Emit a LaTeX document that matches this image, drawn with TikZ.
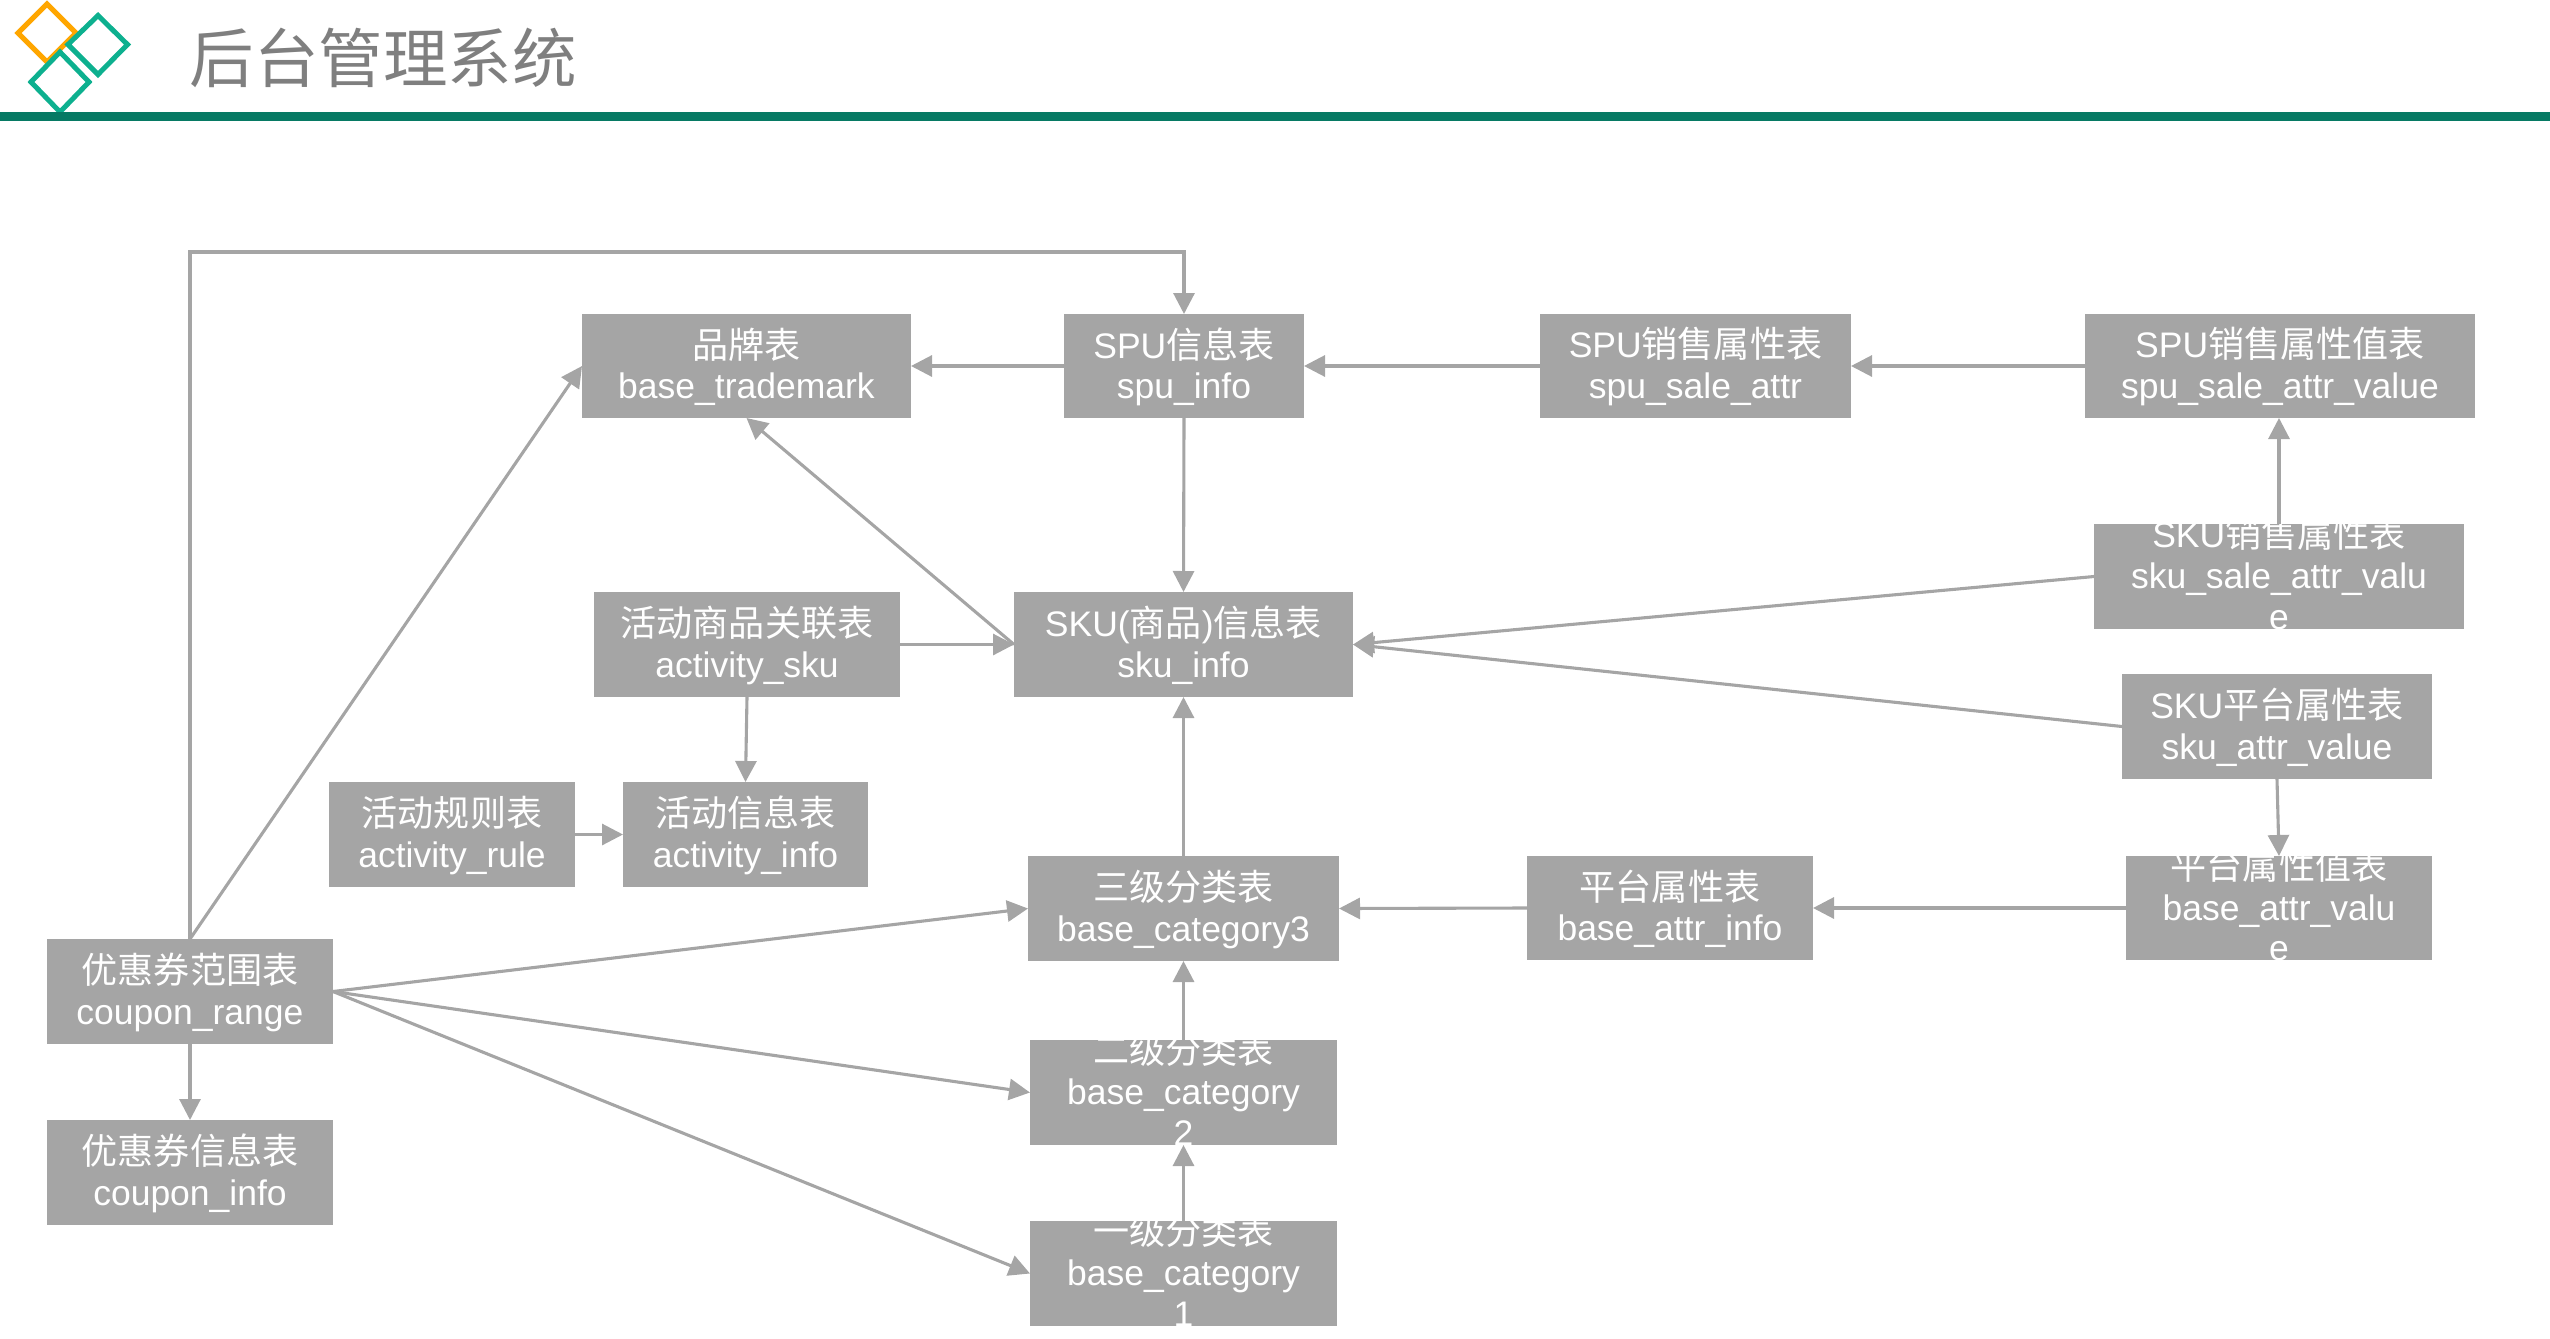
\documentclass[tikz,border=0pt]{standalone}
\usepackage{fontspec}
\setmainfont{Liberation Sans}
\newfontfamily\cjk{Noto Sans CJK SC}
\usetikzlibrary{arrows.meta}
\definecolor{boxgray}{HTML}{A5A5A5}
\definecolor{titlegray}{HTML}{7F7F7F}
\definecolor{barteal}{HTML}{077A64}
\definecolor{logoteal}{HTML}{0DB08F}
\definecolor{logoorange}{HTML}{FFA600}
\newcommand{\zh}[1]{{\cjk\fontsize{18.05}{20.4}\selectfont #1}}
\newcommand{\dpstrut}{\rule[-4pt]{0pt}{1pt}}
\tikzset{
  x=0.5pt,y=-0.5pt,
  tblbox/.style={fill=boxgray,draw=none,inner sep=0pt,outer sep=0pt},
  tbltext/.style={text=white,align=center,inner sep=0pt,yshift=-0.4pt,font={\fontsize{17.75}{20.4}\selectfont\lineskiplimit=-20pt\relax}},
  conn/.style={draw=boxgray,line width=1.55pt,-{Triangle[length=10.5pt,width=10.5pt]},shorten >=0pt},
  logod/.style={line width=2.5pt,line join=miter,fill=white},
}
% name, x0, y0, x1, y1, text
\newcommand{\tbl}[6]{%
  \node[tblbox,minimum width={(#4-#2)*0.5pt},minimum height={(#5-#3)*0.5pt},
    path picture={\node[tbltext] (#1-t) at (path picture bounding box.center) {#6};}]
    (#1) at ({(#2+#4)/2},{(#3+#5)/2}) {};}
\begin{document}
\begin{tikzpicture}
\useasboundingbox (0,0) rectangle (2550,1339);
% logo
\draw[logod,draw=logoorange] (47,4) -- (76,33) -- (47,62) -- (18,33) -- cycle;
\draw[logod,draw=logoteal] (98,15.5) -- (127.5,44.5) -- (98,74.5) -- (68,44.5) -- cycle;
\draw[logod,draw=logoteal] (60,52) -- (89,82) -- (60,112) -- (31,82) -- cycle;
% title and rule
\node[text=titlegray,inner sep=0pt,anchor=center,font=\cjk\fontsize{32.25}{36}\selectfont] (title) at (383,58) {后台管理系统};
\fill[barteal] (0,111.5) rectangle (2550,120.5);
% tables
\tbl{trademark}{582}{314}{911}{418}{\zh{品牌表}\\base\_trademark}
\tbl{spu}{1064}{314}{1304}{418}{SPU\zh{信息表}\\spu\_info}
\tbl{spusale}{1540}{314}{1851}{418}{SPU\zh{销售属性表}\\spu\_sale\_attr}
\tbl{spusaleval}{2085}{314}{2475}{418}{SPU\zh{销售属性值表}\\spu\_sale\_attr\_value}
\tbl{skusale}{2094}{524}{2464}{629}{SKU\zh{销售属性表}\\sku\_sale\_attr\_valu\\e\dpstrut}
\tbl{skuattr}{2122}{674}{2432}{779}{SKU\zh{平台属性表}\\sku\_attr\_value}
\tbl{attrval}{2126}{856}{2432}{960}{\zh{平台属性值表}\\base\_attr\_valu\\e\dpstrut}
\tbl{attrinfo}{1527}{856}{1813}{960}{\zh{平台属性表}\\base\_attr\_info}
\tbl{sku}{1014}{592}{1353}{697}{SKU(\zh{商品})\zh{信息表}\\sku\_info}
\tbl{actsku}{594}{592}{900}{697}{\zh{活动商品关联表}\\activity\_sku}
\tbl{actinfo}{623}{782}{868}{887}{\zh{活动信息表}\\activity\_info}
\tbl{actrule}{329}{782}{575}{887}{\zh{活动规则表}\\activity\_rule}
\tbl{cat3}{1028}{856}{1339}{961}{\zh{三级分类表}\\base\_category3}
\tbl{cat2}{1030}{1040}{1337}{1145}{\zh{二级分类表}\\base\_category\\2\dpstrut}
\tbl{cat1}{1030}{1221}{1337}{1326}{\zh{一级分类表}\\base\_category\\1\dpstrut}
\tbl{crange}{47}{939}{333}{1044}{\zh{优惠券范围表}\\coupon\_range}
\tbl{cinfo}{47}{1120}{333}{1225}{\zh{优惠券信息表}\\coupon\_info}
% connectors
\draw[conn] (spu.west) -- (trademark.east);
\draw[conn] (spusale.west) -- (spu.east);
\draw[conn] (spusaleval.west) -- (spusale.east);
\draw[conn] (skusale.north) -- (spusaleval.south -| skusale.north);
\draw[conn] (skusale.west) -- (sku.east);
\draw[conn] (skuattr.west) -- (sku.east);
\draw[conn] (skuattr.south) -- (attrval.north);
\draw[conn] (attrval.west) -- (attrinfo.east);
\draw[conn] (attrinfo.west) -- (cat3.east);
\draw[conn] (sku.west) -- (trademark.south);
\draw[conn] (spu.south) -- (sku.north);
\draw[conn] (actsku.east) -- (sku.west);
\draw[conn] (actsku.south) -- (actinfo.north);
\draw[conn] (actrule.east) -- (actinfo.west);
\draw[conn] (cat3.north) -- (sku.south);
\draw[conn] (cat2.north) -- (cat3.south);
\draw[conn] (cat1.north) -- (cat2.south);
\draw[conn] (crange.east) -- (cat3.west);
\draw[conn] (crange.east) -- (cat2.west);
\draw[conn] (crange.east) -- (cat1.west);
\draw[conn] (crange.north) -- (trademark.west);
\draw[conn] (crange.north) -- (crange.north |- 0,252) -- (spu.north |- 0,252) -- (spu.north);
\draw[conn] (crange.south) -- (cinfo.north);
\end{tikzpicture}
\end{document}
